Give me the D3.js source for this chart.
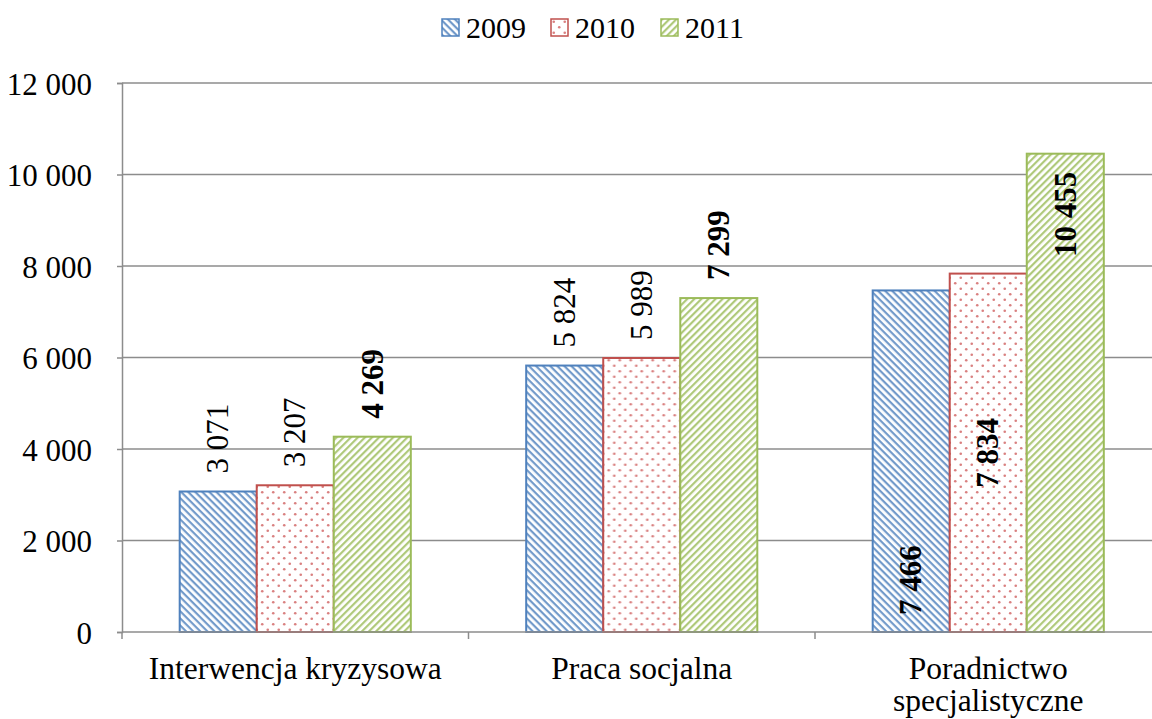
<!DOCTYPE html>
<html>
<head>
<meta charset="utf-8">
<script src="https://cdn.jsdelivr.net/npm/d3@7"></script>
<style>
  body { margin: 0; background: #fff; }
  svg text { font-family: "Liberation Serif", "Tinos", "DejaVu Serif", serif !important; fill: #000; }
</style>
</head>
<body>
<script>
// chart data
var categories = ["Interwencja kryzysowa", "Praca socjalna", "Poradnictwo specjalistyczne"];
var categoryLines = [["Interwencja kryzysowa"], ["Praca socjalna"], ["Poradnictwo", "specjalistyczne"]];
var years = ["2009", "2010", "2011"];
var values2009 = [3071, 5824, 7466];
var values2010 = [3207, 5989, 7834];
var values2011 = [4269, 7299, 10455];
var yTicks = [0, 2000, 4000, 6000, 8000, 10000, 12000];
// where the value label sits: "out" above bar, "base", "center", "end" inside
var labelPos = [["out", "out", "out"], ["out", "out", "out"], ["base", "center", "end"]];
var labelBold = [[false, false, true], [false, false, true], [true, true, true]];

var colors = ["#4f81bd", "#c0504d", "#9bbb59"];
var serif = "'Liberation Serif', Tinos, 'DejaVu Serif', serif";

var width = 1152, height = 719;
var margin = {top: 83, left: 122, bottom: 87};
var plotRight = 1161.5;

var svg = d3.select("body").append("svg")
    .attr("width", width)
    .attr("height", height)
    .style("font-family", serif);

// patterns
var defs = svg.append("defs");
var p1 = defs.append("pattern").attr("id", "pat0")
    .attr("patternUnits", "userSpaceOnUse").attr("width", 5).attr("height", 5)
    .attr("patternTransform", "rotate(45)");
p1.append("rect").attr("width", 5).attr("height", 5).attr("fill", "#fff");
p1.append("rect").attr("width", 5).attr("height", 2.2).attr("fill", colors[0]).attr("opacity", 0.8);

var p2 = defs.append("pattern").attr("id", "pat1")
    .attr("patternUnits", "userSpaceOnUse").attr("width", 11).attr("height", 11);
p2.append("rect").attr("width", 11).attr("height", 11).attr("fill", "#fff");
p2.append("circle").attr("cx", 2.75).attr("cy", 2.75).attr("r", 1.3).attr("fill", "#d98080");
p2.append("circle").attr("cx", 8.25).attr("cy", 8.25).attr("r", 1.3).attr("fill", "#d98080");

var p3 = defs.append("pattern").attr("id", "pat2")
    .attr("patternUnits", "userSpaceOnUse").attr("width", 5).attr("height", 5)
    .attr("patternTransform", "rotate(-45)");
p3.append("rect").attr("width", 5).attr("height", 5).attr("fill", "#fff");
p3.append("rect").attr("width", 5).attr("height", 2.2).attr("fill", colors[2]).attr("opacity", 0.8);

// scales
var x0 = d3.scaleBand().domain(categories).range([margin.left, plotRight]).padding(0);
var inner = x0.bandwidth() * 0.1665;
var x1 = d3.scaleBand().domain(years).range([inner, x0.bandwidth() - inner]).padding(0);
var y = d3.scaleLinear().domain([0, 12000]).range([height - margin.bottom, margin.top]);

// gridlines
svg.append("g").selectAll("line")
    .data(yTicks.filter(function(d) { return d > 0; }))
  .enter().append("line")
    .attr("x1", margin.left).attr("x2", plotRight)
    .attr("y1", function(d) { return y(d); })
    .attr("y2", function(d) { return y(d); })
    .attr("stroke", "#8c8c8c").attr("stroke-width", 1.5);

// bars
var rows = categories.map(function(c, i) {
  return {cat: c, i: i, vals: [values2009[i], values2010[i], values2011[i]]};
});

var groups = svg.append("g").selectAll("g")
    .data(rows)
  .enter().append("g")
    .attr("transform", function(d) { return "translate(" + x0(d.cat) + ",0)"; });

groups.selectAll("rect")
    .data(function(d) { return d.vals.map(function(v, k) { return {v: v, k: k}; }); })
  .enter().append("rect")
    .attr("x", function(d) { return x1(years[d.k]); })
    .attr("y", function(d) { return y(d.v); })
    .attr("width", x1.bandwidth())
    .attr("height", function(d) { return y(0) - y(d.v); })
    .attr("fill", function(d) { return "url(#pat" + d.k + ")"; })
    .attr("stroke", function(d) { return colors[d.k]; })
    .attr("stroke-width", 2);

// value labels
var fmt = function(v) { return d3.format(",")(v).replace(/,/g, " "); };
groups.selectAll("text.val")
    .data(function(d) { return d.vals.map(function(v, k) { return {v: v, k: k, i: d.i}; }); })
  .enter().append("text")
    .attr("class", "val")
    .attr("font-size", 31)
    .attr("font-weight", function(d) { return labelBold[d.i][d.k] ? "bold" : "normal"; })
    .attr("dy", "0.33em")
    .attr("transform", function(d) {
      var cx = x1(years[d.k]) + x1.bandwidth() / 2;
      var pos = labelPos[d.i][d.k];
      var cy;
      if (pos === "out") { cy = y(d.v) - 18; }
      else if (pos === "base") { cy = y(0) - 17; }
      else if (pos === "end") { cy = y(d.v) + 18; }
      else { cy = (y(d.v) + y(0)) / 2; }
      return "translate(" + cx + "," + cy + ") rotate(-90)";
    })
    .attr("text-anchor", function(d) {
      var pos = labelPos[d.i][d.k];
      if (pos === "out" || pos === "base") return "start";
      if (pos === "end") return "end";
      return "middle";
    })
    .text(function(d) { return fmt(d.v); });

// y axis
var yAxis = svg.append("g")
    .attr("transform", "translate(" + margin.left + ",0)")
    .call(d3.axisLeft(y).tickValues(yTicks).tickSize(5).tickPadding(25)
      .tickFormat(function(d) { return fmt(d); }));
yAxis.attr("font-family", null);
yAxis.select(".domain").attr("stroke", "#8c8c8c").attr("stroke-width", 1.5);
yAxis.selectAll(".tick line").attr("stroke", "#8c8c8c").attr("stroke-width", 1.5);
yAxis.selectAll("text").attr("font-size", 31).attr("dy", "0.36em").style("font-family", serif).attr("fill", "#000");

// x axis
var xAxisG = svg.append("g")
    .attr("transform", "translate(0," + y(0) + ")");
xAxisG.append("line")
    .attr("x1", margin.left).attr("x2", plotRight)
    .attr("stroke", "#8c8c8c").attr("stroke-width", 1.5);
xAxisG.selectAll("line.tk")
    .data(categories.concat(["end"]))
  .enter().append("line")
    .attr("class", "tk")
    .attr("x1", function(d) { return d === "end" ? plotRight : x0(d); })
    .attr("x2", function(d) { return d === "end" ? plotRight : x0(d); })
    .attr("y1", 0).attr("y2", 7)
    .attr("stroke", "#8c8c8c").attr("stroke-width", 1.5);

var catText = xAxisG.selectAll("text.cat")
    .data(rows)
  .enter().append("text")
    .attr("class", "cat")
    .attr("font-size", 31.5)
    .attr("text-anchor", "middle")
    .attr("x", function(d) { return x0(d.cat) + x0.bandwidth() / 2; })
    .attr("y", 47);
catText.selectAll("tspan")
    .data(function(d) { return categoryLines[d.i]; })
  .enter().append("tspan")
    .attr("x", function() { return d3.select(this.parentNode).attr("x"); })
    .attr("dy", function(d, j) { return j === 0 ? 0 : 32; })
    .text(function(d) { return d; });

// legend
var legendX = [442, 551, 661];
var legend = svg.append("g").selectAll("g")
    .data(years)
  .enter().append("g")
    .attr("transform", function(d, k) { return "translate(" + legendX[k] + ",19)"; });
legend.append("rect")
    .attr("width", 17).attr("height", 17)
    .attr("fill", function(d, k) { return "url(#pat" + k + ")"; })
    .attr("stroke", function(d, k) { return colors[k]; })
    .attr("stroke-width", 1.5);
legend.append("text")
    .attr("x", 24).attr("y", 19)
    .attr("font-size", 30)
    .text(function(d) { return d; });
</script>
</body>
</html>
